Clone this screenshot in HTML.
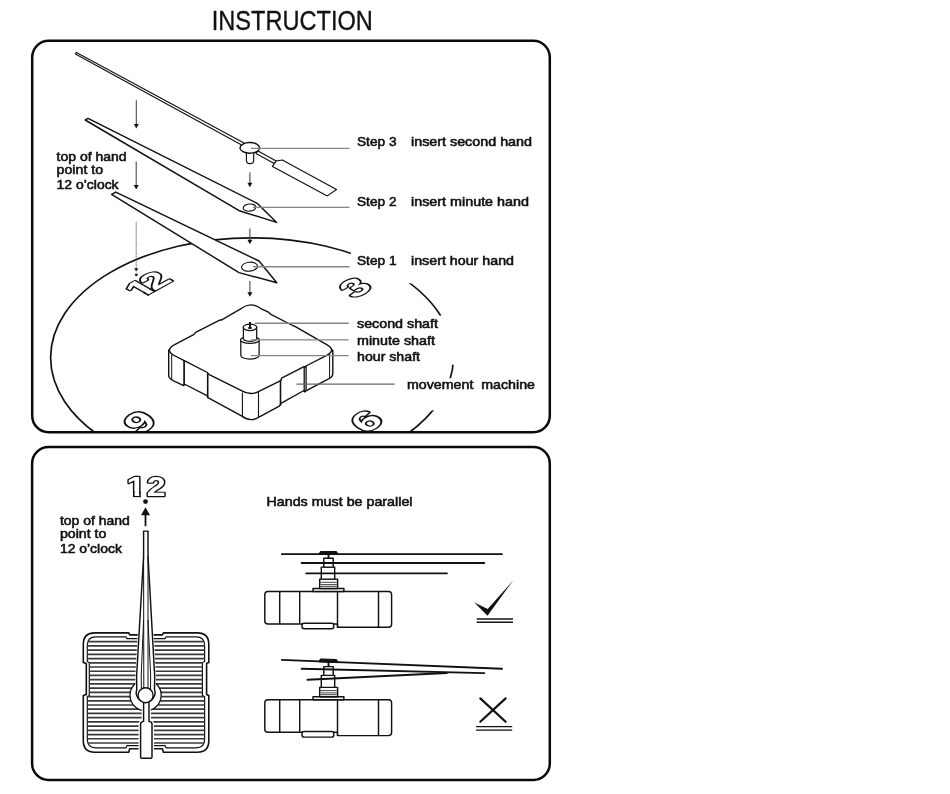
<!DOCTYPE html>
<html lang="en"><head><meta charset="utf-8"><title>Instruction</title>
<style>html,body{margin:0;padding:0;background:#fff}svg{display:block;will-change:transform}</style></head>
<body>
<svg width="950" height="794" viewBox="0 0 950 794">
<defs><clipPath id="c1"><rect x="32.2" y="40.75" width="517.6" height="391.55" rx="16.5" ry="16.5"/></clipPath></defs>
<rect width="950" height="794" fill="#fff"/>
<g font-family='"Liberation Sans", Arial, Helvetica, sans-serif' fill="#111">
<text x="211.8" y="29.5" font-size="28.3" font-weight="normal" textLength="161" lengthAdjust="spacingAndGlyphs" stroke="#111" stroke-width="0.35" >INSTRUCTION</text>
<g clip-path="url(#c1)" fill="none" stroke="#111" stroke-width="1.7">
<ellipse cx="252" cy="357.6" rx="201.4" ry="119.8"/>
</g>
<rect x="350.8" y="246" width="190" height="37.3" fill="#fff"/>
<rect x="352" y="315.6" width="110" height="49" fill="#fff"/>
<rect x="400" y="378.2" width="140" height="32.2" fill="#fff"/>
<defs><clipPath id="one"><path d="M-1 -9 H7 V-1.9 H4.16 V0.6 H1.88 V-1.9 H-1 Z"/></clipPath></defs>
<g clip-path="url(#c1)">
<g transform="matrix(3.45,-1.910,2.68,1.540,140.4,298.7)"><text clip-path="url(#one)" font-size="10" font-weight="bold" fill="#fff" stroke="#111" stroke-width="0.9" stroke-linejoin="round" paint-order="stroke">1</text><path d="M2.109 -1.7 V0.45 M3.931 -1.7 V0.45" stroke="#111" stroke-width="0.45" fill="none"/></g><text transform="matrix(3.45,-1.910,2.68,1.540,154.4,291)" font-size="10" font-weight="bold" fill="#fff" stroke="#111" stroke-width="0.9" stroke-linejoin="round" paint-order="stroke">2</text>
<text transform="matrix(3.45,-2.082,2.68,1.679,354.8,298.9)" font-size="10" font-weight="bold" fill="#fff" stroke="#111" stroke-width="0.9" stroke-linejoin="round" paint-order="stroke">3</text>
<text transform="matrix(3.45,-2.330,2.68,1.879,366,434.3)" font-size="10" font-weight="bold" fill="#fff" stroke="#111" stroke-width="0.9" stroke-linejoin="round" paint-order="stroke">6</text>
<text transform="matrix(3.45,-2.426,2.68,1.956,139.2,435.4)" font-size="10" font-weight="bold" fill="#fff" stroke="#111" stroke-width="0.9" stroke-linejoin="round" paint-order="stroke">9</text>
</g>
<rect x="32.2" y="40.75" width="517.6" height="391.55" rx="16.5" ry="16.5" fill="none" stroke="#0a0a0a" stroke-width="2.5"/>
<g fill="#fff" stroke="#111" stroke-width="1.15" stroke-linejoin="round">
<path d="M75.4 53.9 L76.4 52.4 L244 143 L242.6 145.6 Z"/>
<path d="M258 151 L276.2 161 L274.2 163.6 L256 153.4 Z"/>
<path d="M276.2 161 L282.3 160 L336.5 189.5 L327.3 195.9 L272.5 166.4 L274.2 163.6 Z"/>
<path d="M246.4 151 L246.4 160.2 Q246.4 163.6 250 163.6 Q253.7 163.6 253.7 160.2 L253.7 151 Z"/>
<ellipse cx="249.8" cy="147.9" rx="9.8" ry="5.4" stroke-width="1.4"/>
<path d="M88 118.4 L257.2 203.3 L276.6 222.4 L240 211 L85.2 120 Z" stroke-width="1.45"/>
<ellipse cx="249.5" cy="207.6" rx="6.3" ry="3.6" transform="rotate(-6 249.5 207.6)"/>
<path d="M115.8 192.1 L259 261 L276.8 282.7 L239 272.6 L111.6 194.4 Z" stroke-width="1.45"/>
<ellipse cx="249.5" cy="266.7" rx="8" ry="4.5" transform="rotate(-6 249.5 266.7)"/>
</g>
<line x1="136.3" y1="100.2" x2="136.3" y2="125.5" stroke="#4a4a4a" stroke-width="1.1"/>
<path d="M133.8 124.0 L138.8 124.0 L136.3 128.5 Z" fill="#111"/>
<line x1="136.2" y1="161.5" x2="136.2" y2="186.4" stroke="#4a4a4a" stroke-width="1.1"/>
<path d="M133.7 184.9 L138.7 184.9 L136.2 189.4 Z" fill="#111"/>
<line x1="136.2" y1="222" x2="136.2" y2="269.1" stroke="#666" stroke-width="0.9" stroke-dasharray="1.6 0.5"/>
<path d="M134.1 268.20000000000005 L138.29999999999998 268.20000000000005 L136.2 271.6 Z" fill="#111"/>
<circle cx="136.3" cy="274.8" r="1.35" fill="#111"/>
<line x1="249.9" y1="172.3" x2="249.9" y2="184.2" stroke="#4a4a4a" stroke-width="1.1"/>
<path d="M247.4 182.7 L252.4 182.7 L249.9 187.2 Z" fill="#111"/>
<line x1="249.9" y1="228.4" x2="249.9" y2="241.2" stroke="#4a4a4a" stroke-width="1.1"/>
<path d="M247.4 239.7 L252.4 239.7 L249.9 244.2 Z" fill="#111"/>
<line x1="249.9" y1="281" x2="249.9" y2="293.8" stroke="#4a4a4a" stroke-width="1.1"/>
<path d="M247.4 292.3 L252.4 292.3 L249.9 296.8 Z" fill="#111"/>
<g fill="#fff" stroke="#111" stroke-width="1.4" stroke-linejoin="round">
<path d="M 168.7 349.9 L 168.7 376.1 Q 169.1 378.7 175.2 381.6 L 183.7 385.6 L 184.3 384.0 L 207.4 395.8 L 207.9 397.9 L 209.3 398.4 L 241.5 415.9 Q 250.9 423.1 260.4 416.3 L 279.7 405.8 L 280.9 403.4 L 304.0 390.5 L 304.8 392.0 L 305.9 390.9 L 326.7 379.9 Q 332.8 377.6 332.8 373.6 L 332.8 350.3 L 250.9 351.8 Z"/>
<path d="M 241.5 308.3 Q 250.9 301.4 260.4 308.3 L 268.9 312.4 L 270.5 314.1 L 292.6 325.5 L 294.9 326.3 L 326.7 344.6 Q 336.5 350.2 326.7 355.3 L 305.9 366.0 L 304.8 367.2 L 304.0 366.6 L 281.6 378.2 L 280.9 380.3 L 279.7 381.2 L 260.4 390.7 Q 250.9 396.4 241.5 390.7 L 209.3 374.6 L 207.7 373.2 L 207.4 372.5 L 184.8 360.9 L 183.7 360.4 L 175.2 356.0 Q 163.7 350.1 175.2 344.3 L 194.1 334.4 L 195.6 332.3 L 219.7 320.2 L 221.8 319.8 Z"/>
</g>
<g fill="none" stroke="#111" stroke-width="1.1">
<path d="M171.7 354.9 L171.7 379.9" stroke-width="1"/>
<path d="M184.1 360.6 L184.1 385.6" stroke-width="1.7"/>
<path d="M207.7 372.9 L207.7 397.9" stroke-width="1.6"/>
<path d="M242.4 392.6 L242.4 416.3" stroke-width="1.1"/>
<path d="M258.5 392.0 L258.5 417.2" stroke-width="1.1"/>
<path d="M280.5 379.7 L280.5 405.6" stroke-width="1.6"/>
<path d="M304.2 367.0 L304.2 392.0" stroke-width="1.3"/>
<path d="M306.1 366.0 L306.1 390.9" stroke-width="1.3"/>
<path d="M329.6 353.4 L329.6 378.4" stroke-width="1"/>
</g>
<g fill="#fff" stroke="#111" stroke-width="1.25">
<path d="M240.8 340 V355.4 A9.15 3.7 0 0 0 259.1 355.4 V340 Z"/>
<ellipse cx="249.95" cy="340" rx="9.5" ry="3.3"/>
<path d="M243.4 327.3 V338.6 A6.65 2.7 0 0 0 256.7 338.6 V327.3 Z"/>
<ellipse cx="250" cy="327.3" rx="6.7" ry="3.3"/>
<ellipse cx="250" cy="328" rx="2.2" ry="0.9" fill="#111" stroke="none"/>
<line x1="250" y1="321.9" x2="250" y2="328" stroke-width="1.9"/>
</g>
<g stroke="#858585" stroke-width="1.4" fill="none">
<line x1="251" y1="148.4" x2="349.6" y2="148.4"/>
<line x1="253" y1="207.4" x2="349.6" y2="207.4"/>
<line x1="253" y1="266.8" x2="349.6" y2="266.8"/>
<line x1="254.8" y1="323.3" x2="348.8" y2="323.3"/>
<line x1="251" y1="339.9" x2="348.8" y2="339.9"/>
<line x1="251" y1="355.6" x2="348.8" y2="355.6"/>
<line x1="296.4" y1="384.2" x2="394.7" y2="384.2" stroke="#666" stroke-width="1.3"/>
</g>
<text x="56.6" y="160.8" font-size="12.2" font-weight="normal" textLength="70" lengthAdjust="spacingAndGlyphs" stroke="#111" stroke-width="0.55" >top of hand</text>
<text x="56.6" y="174.2" font-size="12.2" font-weight="normal" textLength="46.5" lengthAdjust="spacingAndGlyphs" stroke="#111" stroke-width="0.55" >point to</text>
<text x="56.6" y="188.7" font-size="12.2" font-weight="normal" textLength="62" lengthAdjust="spacingAndGlyphs" stroke="#111" stroke-width="0.55" >12 o&#8217;clock</text>
<text x="357" y="146" font-size="12.2" font-weight="normal" textLength="39.5" lengthAdjust="spacingAndGlyphs" stroke="#111" stroke-width="0.55" >Step 3</text>
<text x="411" y="146" font-size="12.2" font-weight="normal" textLength="121" lengthAdjust="spacingAndGlyphs" stroke="#111" stroke-width="0.55" >insert second hand</text>
<text x="357" y="205.5" font-size="12.2" font-weight="normal" textLength="39.5" lengthAdjust="spacingAndGlyphs" stroke="#111" stroke-width="0.55" >Step 2</text>
<text x="411" y="205.5" font-size="12.2" font-weight="normal" textLength="118" lengthAdjust="spacingAndGlyphs" stroke="#111" stroke-width="0.55" >insert minute hand</text>
<text x="357" y="265" font-size="12.2" font-weight="normal" textLength="39.5" lengthAdjust="spacingAndGlyphs" stroke="#111" stroke-width="0.55" >Step 1</text>
<text x="411" y="265" font-size="12.2" font-weight="normal" textLength="103" lengthAdjust="spacingAndGlyphs" stroke="#111" stroke-width="0.55" >insert hour hand</text>
<text x="357" y="328" font-size="12.2" font-weight="normal" textLength="81" lengthAdjust="spacingAndGlyphs" stroke="#111" stroke-width="0.55" >second shaft</text>
<text x="357" y="345" font-size="12.2" font-weight="normal" textLength="78" lengthAdjust="spacingAndGlyphs" stroke="#111" stroke-width="0.55" >minute shaft</text>
<text x="357" y="361" font-size="12.2" font-weight="normal" textLength="63" lengthAdjust="spacingAndGlyphs" stroke="#111" stroke-width="0.55" >hour shaft</text>
<text x="407" y="389" font-size="12.2" font-weight="normal" textLength="128" lengthAdjust="spacingAndGlyphs" stroke="#111" stroke-width="0.55" >movement&#160; machine</text>
<rect x="32.1" y="447.1" width="517.7" height="332.9" rx="16.5" ry="16.5" fill="none" stroke="#0a0a0a" stroke-width="2.5"/>
<g transform="matrix(3.4,0,0,2.72,126.6,495.9)"><text clip-path="url(#one)" font-size="10" font-weight="bold" fill="#fff" stroke="#111" stroke-width="0.9" stroke-linejoin="round" paint-order="stroke">1</text><path d="M2.109 -1.7 V0.45 M3.931 -1.7 V0.45" stroke="#111" stroke-width="0.45" fill="none"/></g><text transform="matrix(3.4,0,0,2.72,146.65,495.9)" font-size="10" font-weight="bold" fill="#fff" stroke="#111" stroke-width="0.9" stroke-linejoin="round" paint-order="stroke">2</text>
<circle cx="145.5" cy="501.6" r="2.4" fill="#111"/>
<path d="M145.5 507.3 L150 515.3 L141 515.3 Z" fill="#111"/>
<line x1="145.5" y1="514" x2="145.5" y2="526.2" stroke="#111" stroke-width="1.8"/>
<text x="59.9" y="524.6" font-size="12.2" font-weight="normal" textLength="70" lengthAdjust="spacingAndGlyphs" stroke="#111" stroke-width="0.55" >top of hand</text>
<text x="59.9" y="538.2" font-size="12.2" font-weight="normal" textLength="46.5" lengthAdjust="spacingAndGlyphs" stroke="#111" stroke-width="0.55" >point to</text>
<text x="59.9" y="552.6" font-size="12.2" font-weight="normal" textLength="62" lengthAdjust="spacingAndGlyphs" stroke="#111" stroke-width="0.55" >12 o&#8217;clock</text>
<text x="266.5" y="506.1" font-size="12.2" font-weight="normal" textLength="146" lengthAdjust="spacingAndGlyphs" stroke="#111" stroke-width="0.55" >Hands must be parallel</text>
<path d="M94.8 632.9 H128.7 L129.7 634.9 H162.4 L163.4 632.9 H197.3 Q208.8 632.9 208.8 644.4 V662.4 L206.60000000000002 663.4 V694.5 L208.8 695.5 V740.7 Q208.8 752.2 197.3 752.2 H163.4 L162.4 748.7 H129.7 L128.7 752.2 H94.8 Q83.3 752.2 83.3 740.7 V695.5 L86.3 694.5 V663.4 L83.3 662.4 V644.4 Q83.3 632.9 94.8 632.9 Z" fill="#fff" stroke="#111" stroke-width="1.6" stroke-linejoin="round"/>
<path d="M95.8 636.8 H126 L127 638.5999999999999 H165 L166 636.8 H196.1 Q204.6 636.8 204.6 645.3 V661.5 L202.4 662.5 V695.5 L204.6 696.5 V739.3 Q204.6 747.8 196.1 747.8 H166 L165 745.5999999999999 H127 L126 747.8 H95.8 Q87.3 747.8 87.3 739.3 V696.5 L89.3 695.5 V662.5 L87.3 661.5 V645.3 Q87.3 636.8 95.8 636.8 Z" fill="#fff" stroke="#111" stroke-width="1.2" stroke-linejoin="round"/>
<defs><clipPath id="c2"><path d="M95.8 636.8 H126 L127 638.5999999999999 H165 L166 636.8 H196.1 Q204.6 636.8 204.6 645.3 V661.5 L202.4 662.5 V695.5 L204.6 696.5 V739.3 Q204.6 747.8 196.1 747.8 H166 L165 745.5999999999999 H127 L126 747.8 H95.8 Q87.3 747.8 87.3 739.3 V696.5 L89.3 695.5 V662.5 L87.3 661.5 V645.3 Q87.3 636.8 95.8 636.8 Z"/></clipPath></defs>
<g stroke="#3a3a3a" stroke-width="1.7" clip-path="url(#c2)">
<line x1="86" y1="641.70" x2="206" y2="641.70"/>
<line x1="86" y1="645.92" x2="206" y2="645.92"/>
<line x1="86" y1="650.14" x2="206" y2="650.14"/>
<line x1="86" y1="654.36" x2="206" y2="654.36"/>
<line x1="86" y1="658.58" x2="206" y2="658.58"/>
<line x1="86" y1="662.80" x2="206" y2="662.80"/>
<line x1="86" y1="667.02" x2="206" y2="667.02"/>
<line x1="86" y1="671.24" x2="206" y2="671.24"/>
<line x1="86" y1="675.46" x2="206" y2="675.46"/>
<line x1="86" y1="679.68" x2="206" y2="679.68"/>
<line x1="86" y1="683.90" x2="206" y2="683.90"/>
<line x1="86" y1="688.12" x2="206" y2="688.12"/>
<line x1="86" y1="692.34" x2="206" y2="692.34"/>
<line x1="86" y1="696.56" x2="206" y2="696.56"/>
<line x1="86" y1="700.78" x2="206" y2="700.78"/>
<line x1="86" y1="705.00" x2="206" y2="705.00"/>
<line x1="86" y1="709.22" x2="206" y2="709.22"/>
<line x1="86" y1="713.44" x2="206" y2="713.44"/>
<line x1="86" y1="717.66" x2="206" y2="717.66"/>
<line x1="86" y1="721.88" x2="206" y2="721.88"/>
<line x1="86" y1="726.10" x2="206" y2="726.10"/>
<line x1="86" y1="730.32" x2="206" y2="730.32"/>
<line x1="86" y1="734.54" x2="206" y2="734.54"/>
<line x1="86" y1="738.76" x2="206" y2="738.76"/>
<line x1="86" y1="742.98" x2="206" y2="742.98"/>
</g>
<circle cx="145.6" cy="695.3" r="15.6" fill="#fff" stroke="#111" stroke-width="1.3"/>
<path d="M143.6 702 V721.4 Q140.6 721.8 140.6 724 V757 Q140.6 758.2 141.8 758.2 H150.8 Q152 758.2 152 757 V724 Q152 721.8 149 721.4 V702 Z" fill="#fff" stroke="#fff" stroke-width="4"/>
<path d="M143.6 531.1 H148 V556 L154.7 676 L154.5 689.5 A9.4 9.4 0 1 1 136.8 689.5 L136.6 676 L143.6 556 Z" fill="#fff" stroke="#fff" stroke-width="2.6"/>
<g fill="#fff" stroke="#111" stroke-width="1.45" stroke-linejoin="round">
<path d="M143.6 702 V721.4 Q140.6 721.8 140.6 724 V757 Q140.6 758.2 141.8 758.2 H150.8 Q152 758.2 152 757 V724 Q152 721.8 149 721.4 V702 Z"/>
<path d="M143.6 531.1 H148 V556 L154.7 676 L154.5 689.5 A9.4 9.4 0 1 1 136.8 689.5 L136.6 676 L143.6 556 Z"/>
<path d="M143.6 620 L141.2 676 L141.4 689 M148 620 L150.7 676 L150.5 689" fill="none" stroke-width="1"/>
<path d="M143.6 556 L143.8 689 M148 556 L148 689" fill="none" stroke-width="1"/>
<circle cx="145.6" cy="695.3" r="7.5" stroke-width="1.4"/>
</g>
<g transform="translate(0 0)" fill="#fff" stroke="#111" stroke-width="1.45" stroke-linejoin="round">
<path d="M268 591.4 H388.5 Q391.6 591.4 391.6 594.5 V624.2 Q391.6 627.3 388.5 627.3 H337.5 V624 H268 Q264.8 624 264.8 621 V594.5 Q264.8 591.4 268 591.4 Z"/>
<line x1="279.7" y1="591.4" x2="279.7" y2="624"/>
<line x1="299.7" y1="591.4" x2="299.7" y2="624"/>
<line x1="337.5" y1="591.4" x2="337.5" y2="627.3"/>
<line x1="378.5" y1="591.4" x2="378.5" y2="627.3"/>
<rect x="302" y="623.2" width="31.8" height="5.6" rx="2.2"/>
<rect x="313" y="588.5" width="30.9" height="2.9"/>
<rect x="319.7" y="579.1" width="17.9" height="9.4"/>
<path d="M319.7 582.3 H337.6 M320.5 584.6 H336.8 M320.5 586.4 H336.8" stroke-width="1" stroke="#444"/>
<rect x="321.3" y="567.1" width="13.4" height="12"/>
<rect x="323.8" y="558.3" width="9.4" height="8.8"/>
<line x1="328.5" y1="554" x2="328.5" y2="558.3" stroke-width="1.9"/>
</g>
<g transform="translate(0 108.3)" fill="#fff" stroke="#111" stroke-width="1.45" stroke-linejoin="round">
<path d="M268 591.4 H388.5 Q391.6 591.4 391.6 594.5 V624.2 Q391.6 627.3 388.5 627.3 H337.5 V624 H268 Q264.8 624 264.8 621 V594.5 Q264.8 591.4 268 591.4 Z"/>
<line x1="279.7" y1="591.4" x2="279.7" y2="624"/>
<line x1="299.7" y1="591.4" x2="299.7" y2="624"/>
<line x1="337.5" y1="591.4" x2="337.5" y2="627.3"/>
<line x1="378.5" y1="591.4" x2="378.5" y2="627.3"/>
<rect x="302" y="623.2" width="31.8" height="5.6" rx="2.2"/>
<rect x="313" y="588.5" width="30.9" height="2.9"/>
<rect x="319.7" y="579.1" width="17.9" height="9.4"/>
<path d="M319.7 582.3 H337.6 M320.5 584.6 H336.8 M320.5 586.4 H336.8" stroke-width="1" stroke="#444"/>
<rect x="321.3" y="567.1" width="13.4" height="12"/>
<rect x="323.8" y="558.3" width="9.4" height="8.8"/>
<line x1="328.5" y1="554" x2="328.5" y2="558.3" stroke-width="1.9"/>
</g>
<g stroke="#111" stroke-width="1.9" fill="#111" stroke-linecap="round">
<line x1="281.8" y1="554.1" x2="502" y2="554.1"/>
<line x1="301.6" y1="563" x2="484.3" y2="563"/>
<line x1="306.3" y1="573.4" x2="446.9" y2="573.4"/>
<path d="M319 554.1 L320.4 551.5 H336.5 L337.9 554.1 Z" stroke-width="1" stroke-linejoin="round"/>
<line x1="281.8" y1="659.9" x2="502" y2="668.7"/>
<line x1="301.6" y1="668.7" x2="484.3" y2="673.1"/>
<line x1="307.5" y1="679.8" x2="446.9" y2="673"/>
<path d="M319 661.5 L320.4 658.9 L336.5 659.5 L337.9 662.3 Z" stroke-width="1" stroke-linejoin="round"/>
</g>
<path d="M474.4 602.5 L487.7 608.9 L513.4 580.2 L487.5 615.7 Z" fill="#111"/>
<g stroke="#111" stroke-width="1.4"><line x1="476.7" y1="619" x2="513" y2="619"/><line x1="476.7" y1="622.3" x2="513" y2="622.3"/>
<line x1="476" y1="726.6" x2="512.2" y2="726.6"/><line x1="476" y1="730.1" x2="512.2" y2="730.1"/></g>
<g stroke="#111" stroke-width="2.2" stroke-linecap="round"><line x1="480.3" y1="698.4" x2="505.6" y2="721.8"/><line x1="505.6" y1="698.4" x2="480.3" y2="721.8"/></g>
</g>
</svg>
</body></html>
